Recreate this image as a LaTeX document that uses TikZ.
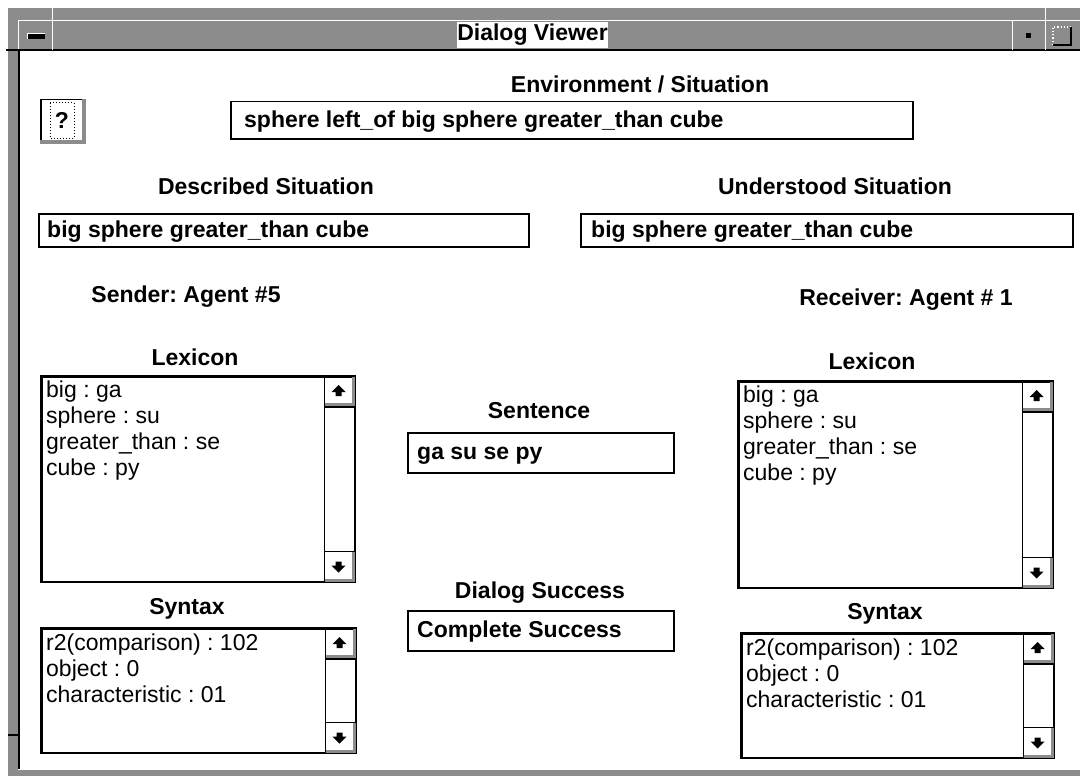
\documentclass[tikz,border=0pt]{standalone}
\usepackage{fontspec}
\setmainfont{Liberation Sans}
\usetikzlibrary{positioning}
\frenchspacing
\definecolor{dith}{gray}{0.55}
\tikzset{
  lbl/.style={font=\fontsize{23}{26}\selectfont\bfseries, inner sep=0pt},
  field/.style={draw, line width=1.5pt, anchor=north west, inner sep=0pt},
  ftext/.style={font=\fontsize{23}{26}\selectfont\bfseries, anchor=base west, inner sep=0pt},
  item/.style={font=\fontsize{23}{26}\selectfont, anchor=base west, inner sep=0pt},
}

\begin{document}
\begin{tikzpicture}[x=1pt, y=-1pt]
  \useasboundingbox (0,0) rectangle (1080,776);
  \fill[white] (0,0) rectangle (1080,776);
  % window frame
  \fill[dith] (8,8) rectangle (1080,51);
  \fill[dith] (8,51) rectangle (18,776);
  \fill[dith] (18,770) rectangle (1080,776);
  \draw[white, line width=1pt] (18.5,50) -- (18.5,20.5) -- (1080,20.5);
  \draw[line width=2pt] (6,50) -- (1080,50);
  \draw[line width=2pt] (19,50) -- (19,769);
  \draw[line width=1.5pt] (8,735) -- (18,735);
  \draw[white, line width=1pt] (52,7) -- (52,50) (1012,20) -- (1012,50) (1045,7) -- (1045,50);
  \fill (27,34) rectangle (45,39);
  \draw[white, line width=1pt] (27,39) -- (27,34) -- (45,34);
  \fill (1026,33) rectangle (1031,38);
  \draw[white, dotted, line width=1.2pt] (1053,45) -- (1053,27) -- (1071,27);
  \draw[line width=1.5pt] (1071,27) -- (1071,45) -- (1053,45);
  \node[lbl, fill=white, minimum width=151pt, minimum height=26pt] (title) at (532.5,35) {Dialog Viewer};

  % help button
  \node[field, minimum width=44pt, minimum height=43pt] (help) at (40,99) {};
  \fill[dith] ([xshift=-4pt]help.north east) rectangle (help.south east);
  \fill[dith] ([yshift=4pt]help.south west) rectangle (help.south east);
  \draw[dotted, line width=1pt] (50,103) rectangle (74,138);
  \node[lbl] (q) at (62,120) {?};

  % labels
  \node[lbl] (envl)  at (640,84)  {Environment / Situation};
  \node[lbl] (descl) at (266,186) {Described Situation};
  \node[lbl] (undl)  at (835,186) {Understood Situation};
  \node[lbl] (send)  at (186,297) {Sender: Agent \#5};
  \node[lbl] (recv)  at (906,300) {Receiver: Agent \# 1};
  \node[lbl] (lexLl) at (195,357) {Lexicon};
  \node[lbl] (synLl) at (187,609) {Syntax};
  \node[lbl] (lexRl) at (872,361) {Lexicon};
  \node[lbl] (synRl) at (885,614) {Syntax};
  \node[lbl] (sentl) at (539,411) {Sentence};
  \node[lbl] (succl) at (540,593) {Dialog Success};

  % fields
  \node[field, minimum width=682pt, minimum height=37pt] (env)  at (230,101) {};
  \node[field, minimum width=490pt, minimum height=33pt] (desc) at (38,213) {};
  \node[field, minimum width=492pt, minimum height=33pt] (und)  at (580,213) {};
  \node[field, minimum width=266pt, minimum height=40pt] (sent) at (407,432) {};
  \node[field, minimum width=266pt, minimum height=40pt] (succ) at (407,610) {};
  \node[ftext] at ([xshift=14pt, yshift=-7pt]env.west)  {sphere left\_of big sphere greater\_than cube};
  \node[ftext] at ([xshift=9pt, yshift=-7pt]desc.west)  {big sphere greater\_than cube};
  \node[ftext] at ([xshift=11pt, yshift=-7pt]und.west)  {big sphere greater\_than cube};
  \node[ftext] at ([xshift=10pt, yshift=-7pt]sent.west) {ga su se py};
  \node[ftext] at ([xshift=10pt, yshift=-7pt]succ.west) {Complete Success};

  % lists
  \node[field, minimum width=313pt, minimum height=205pt] (lexL) at (41,376) {};
  \node[field, minimum width=314pt, minimum height=124pt] (synL) at (41,628) {};
  \node[field, minimum width=314pt, minimum height=206pt] (lexR) at (738,381) {};
  \node[field, minimum width=312pt, minimum height=124pt] (synR) at (741,633) {};
  \foreach \b in {lexL,lexR}
    \foreach \t [count=\i] in {big : ga, sphere : su, greater\_than : se, cube : py}
      \node[item] at ([xshift=5pt, yshift={-21pt-(\i-1)*26pt}]\b.north west) {\t};
  \foreach \b in {synL,synR}
    \foreach \t [count=\i] in {r2(comparison) : 102, object : 0, characteristic : 01}
      \node[item] at ([xshift=5pt, yshift={-22pt-(\i-1)*26pt}]\b.north west) {\t};

  % scroll bars
  \foreach \b in {lexL,synL,lexR,synR} {
    \draw[line width=1.5pt] ([xshift=-31pt]\b.north east) -- ([xshift=-31pt]\b.south east);
    \fill[dith] ([xshift=-4pt]\b.north east) rectangle ([yshift=-31pt]\b.north east);
    \fill[dith] ([xshift=-31pt, yshift=-27pt]\b.north east) rectangle ([yshift=-31pt]\b.north east);
    \draw[line width=1.5pt] ([xshift=-31pt, yshift=-31pt]\b.north east) -- ([yshift=-31pt]\b.north east);
    \fill[dith] ([xshift=-4pt, yshift=31pt]\b.south east) rectangle (\b.south east);
    \fill[dith] ([xshift=-31pt, yshift=4pt]\b.south east) rectangle (\b.south east);
    \draw[line width=1.5pt] ([xshift=-31pt, yshift=31pt]\b.south east) -- ([yshift=31pt]\b.south east);
    \path ([xshift=-17pt, yshift=-15pt]\b.north east) coordinate (u)
          ([xshift=-17pt, yshift=16pt]\b.south east) coordinate (d);
    \fill[shift={(u)}] (-7,1) -- (0,-6) -- (7,1) -- (3,1) -- (3,5) -- (-3,5) -- (-3,1) -- cycle;
    \fill[shift={(d)}] (-7,-1) -- (0,6) -- (7,-1) -- (3,-1) -- (3,-5) -- (-3,-5) -- (-3,-1) -- cycle;
    \draw[line width=1.5pt] (\b.north west) rectangle (\b.south east);
  }
\end{tikzpicture}
\end{document}
